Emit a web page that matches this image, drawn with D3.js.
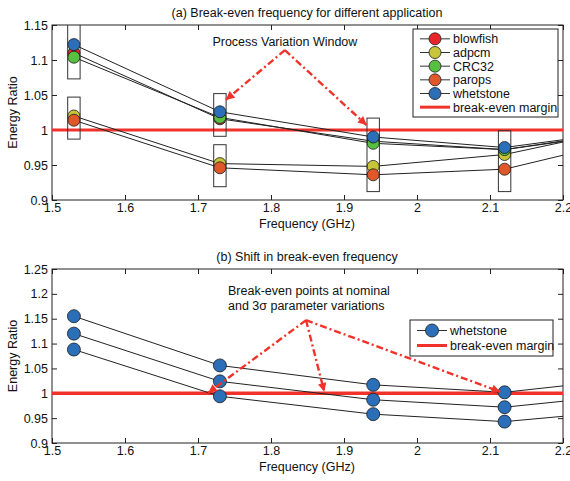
<!DOCTYPE html>
<html>
<head>
<meta charset="utf-8">
<script src="https://cdn.jsdelivr.net/npm/d3@7"></script>
<style>
  body { margin: 0; background: #fff; }
  svg { display: block; font-family: "Liberation Sans", Arial, sans-serif; }
  .tick text { font-size: 12.5px; fill: #111; }
</style>
</head>
<body>
<svg id="chart" width="570" height="481"></svg>
<script>
// ---- data ----
var freqs = [1.53, 1.73, 1.94, 2.12, 2.3];   // last point lies past the axis and is clipped
var apps = ["blowfish", "adpcm", "CRC32", "parops", "whetstone"];
var appColors = ["#e8262a", "#c9c53a", "#58c040", "#e0582a", "#2a6fb8"];
var blowfish = [1.110, 1.016, 0.984, 0.972, 1.000];
var adpcm = [1.020, 0.952, 0.948, 0.965, 1.005];
var crc32 = [1.104, 1.018, 0.981, 0.972, 0.998];
var parops = [1.014, 0.946, 0.936, 0.944, 0.989];
var whetstone = [1.122, 1.026, 0.990, 0.975, 1.000];

// process variation windows (panel a): frequency, low and high energy ratio
var winFreq = [1.53, 1.53, 1.73, 1.73, 1.94, 2.12];
var winLow = [1.073, 0.987, 0.991, 0.919, 0.912, 0.912];
var winHigh = [1.151, 1.047, 1.052, 0.979, 1.017, 0.999];

// panel b: whetstone at +3 sigma, nominal, -3 sigma
var whetHigh = [1.155, 1.056, 1.017, 1.002, 1.031];
var whetNom = [1.120, 1.024, 0.987, 0.972, 0.999];
var whetLow = [1.088, 0.994, 0.958, 0.943, 0.967];

var xTicks = [1.5, 1.6, 1.7, 1.8, 1.9, 2.0, 2.1, 2.2];
var xTickLabels = ["1.5", "1.6", "1.7", "1.8", "1.9", "2", "2.1", "2.2"];
var yTicksA = [0.9, 0.95, 1.0, 1.05, 1.1, 1.15];
var yTickLabelsA = ["0.9", "0.95", "1", "1.05", "1.1", "1.15"];
var yTicksB = [0.9, 0.95, 1.0, 1.05, 1.1, 1.15, 1.2, 1.25];
var yTickLabelsB = ["0.9", "0.95", "1", "1.05", "1.1", "1.15", "1.2", "1.25"];

var breakEven = 1.0;
var red = "#f0332a";

var svg = d3.select("#chart");

svg.append("defs").append("marker")
    .attr("id", "arrow")
    .attr("viewBox", "0 0 10 10")
    .attr("refX", 10).attr("refY", 5)
    .attr("markerWidth", 4.2).attr("markerHeight", 3.6)
    .attr("markerUnits", "strokeWidth")
    .attr("orient", "auto")
    .append("path")
    .attr("d", "M0,0 L10,5 L0,10 Z")
    .style("fill", red);

function makePanel(id, top, bottom, yDomain, yTicks, yLabels, title) {
    var x = d3.scaleLinear().domain([1.5, 2.2]).range([52, 563]);
    var y = d3.scaleLinear().domain(yDomain).range([bottom, top]);
    var g = svg.append("g");

    svg.select("defs").append("clipPath").attr("id", "clip" + id)
        .append("rect")
        .attr("x", 52).attr("y", top)
        .attr("width", 511).attr("height", bottom - top);

    var fmtX = function (d, i) { return xTickLabels[i]; };
    var fmtY = function (d, i) { return yLabels[i]; };

    g.append("g").attr("transform", "translate(0," + bottom + ")")
        .call(d3.axisBottom(x).tickValues(xTicks).tickFormat(fmtX).tickSizeInner(-5).tickSizeOuter(0).tickPadding(3));
    g.append("g").attr("transform", "translate(0," + top + ")")
        .call(d3.axisTop(x).tickValues(xTicks).tickFormat("").tickSizeInner(-5).tickSizeOuter(0));
    g.append("g").attr("transform", "translate(52,0)")
        .call(d3.axisLeft(y).tickValues(yTicks).tickFormat(fmtY).tickSizeInner(-5).tickSizeOuter(0).tickPadding(4));
    g.append("g").attr("transform", "translate(563,0)")
        .call(d3.axisRight(y).tickValues(yTicks).tickFormat("").tickSizeInner(-5).tickSizeOuter(0));
    g.selectAll(".domain").remove();
    g.selectAll(".tick line").style("stroke", "#222");

    g.append("rect")
        .attr("x", 52).attr("y", top)
        .attr("width", 511).attr("height", bottom - top)
        .style("fill", "none").style("stroke", "#222").style("stroke-width", 1);

    g.append("text").attr("x", 307).attr("y", top - 8)
        .attr("text-anchor", "middle").style("font-size", "12.5px").style("fill", "#111")
        .text(title);
    g.append("text").attr("x", 307).attr("y", bottom + 28)
        .attr("text-anchor", "middle").style("font-size", "12.5px").style("fill", "#111")
        .text("Frequency (GHz)");
    g.append("text")
        .attr("transform", "translate(17," + ((top + bottom) / 2) + ") rotate(-90)")
        .attr("text-anchor", "middle").style("font-size", "12.5px").style("fill", "#111")
        .text("Energy Ratio");

    var plot = g.append("g").attr("clip-path", "url(#clip" + id + ")");
    return { x: x, y: y, g: g, plot: plot };
}

function drawSeries(p, values, color, r) {
    var line = d3.line()
        .x(function (d, i) { return p.x(freqs[i]); })
        .y(function (d) { return p.y(d); });
    p.plot.append("path")
        .attr("d", line(values))
        .style("fill", "none").style("stroke", "#222").style("stroke-width", 1);
    p.plot.selectAll(null).data(values).enter().append("circle")
        .attr("cx", function (d, i) { return p.x(freqs[i]); })
        .attr("cy", function (d) { return p.y(d); })
        .attr("r", r)
        .style("fill", color).style("stroke", "#1a1a1a").style("stroke-width", 0.8);
}

function drawBreakEven(p, w) {
    p.plot.append("line")
        .attr("x1", p.x(1.5)).attr("x2", p.x(2.2))
        .attr("y1", p.y(breakEven)).attr("y2", p.y(breakEven))
        .style("stroke", red).style("stroke-width", w);
}

function drawArrow(p, from, to) {
    p.g.append("line")
        .attr("x1", p.x(from[0])).attr("y1", p.y(from[1]))
        .attr("x2", p.x(to[0])).attr("y2", p.y(to[1]))
        .style("stroke", red).style("stroke-width", 2.4)
        .style("stroke-dasharray", "7,3,2,3")
        .attr("marker-end", "url(#arrow)");
}

function drawLegend(x0, y0, w, h, entries) {
    var lg = svg.append("g");
    lg.append("rect").attr("x", x0).attr("y", y0).attr("width", w).attr("height", h)
        .style("fill", "#fff").style("stroke", "#222").style("stroke-width", 1);
    var step = (h - 6) / entries.length;
    entries.forEach(function (e, i) {
        var cy = y0 + 3 + step * (i + 0.5);
        if (e.marker) {
            lg.append("line").attr("x1", x0 + 7).attr("x2", x0 + 37).attr("y1", cy).attr("y2", cy)
                .style("stroke", "#333").style("stroke-width", 1);
            lg.append("circle").attr("cx", x0 + 22).attr("cy", cy).attr("r", e.r)
                .style("fill", e.color).style("stroke", "#1a1a1a").style("stroke-width", 0.8);
        } else {
            lg.append("line").attr("x1", x0 + 7).attr("x2", x0 + 37).attr("y1", cy).attr("y2", cy)
                .style("stroke", red).style("stroke-width", 3);
        }
        lg.append("text").attr("x", x0 + 40).attr("y", cy + 4.5)
            .style("font-size", "12.5px").style("fill", "#111")
            .text(e.label);
    });
}

// ---- panel (a) ----
var pa = makePanel("a", 25, 200, [0.9, 1.15], yTicksA, yTickLabelsA,
    "(a) Break-even frequency for different application");

drawBreakEven(pa, 3);

// variation windows
pa.plot.selectAll(null).data(winFreq).enter().append("rect")
    .attr("x", function (d) { return pa.x(d - 0.0085); })
    .attr("width", function (d) { return pa.x(d + 0.0085) - pa.x(d - 0.0085); })
    .attr("y", function (d, i) { return pa.y(winHigh[i]); })
    .attr("height", function (d, i) { return pa.y(winLow[i]) - pa.y(winHigh[i]); })
    .style("fill", "none").style("stroke", "#333").style("stroke-width", 1);

var seriesA = [blowfish, adpcm, crc32, parops, whetstone];
seriesA.forEach(function (s, i) { drawSeries(pa, s, appColors[i], 6); });

pa.g.append("text").attr("x", pa.x(1.819)).attr("y", 46)
    .attr("text-anchor", "middle").style("font-size", "12.5px").style("fill", "#111")
    .text("Process Variation Window");
drawArrow(pa, [1.819, 1.114], [1.738, 1.043]);
drawArrow(pa, [1.819, 1.114], [1.931, 1.007]);

var legA = apps.map(function (a, i) { return { label: a, color: appColors[i], marker: true, r: 6 }; });
legA.push({ label: "break-even margin", marker: false });
drawLegend(413, 29, 145, 88, legA);

// ---- panel (b) ----
var pb = makePanel("b", 269, 443, [0.9, 1.25], yTicksB, yTickLabelsB,
    "(b) Shift in break-even frequency");

drawBreakEven(pb, 3.5);
[whetHigh, whetNom, whetLow].forEach(function (s) { drawSeries(pb, s, appColors[4], 6.5); });

pb.g.append("text").attr("x", 228).attr("y", 295)
    .style("font-size", "12.5px").style("fill", "#111")
    .text("Break-even points at nominal");
pb.g.append("text").attr("x", 228).attr("y", 310)
    .style("font-size", "12.5px").style("fill", "#111")
    .text("and 3\u03c3 parameter variations");
drawArrow(pb, [1.848, 1.147], [1.714, 1.001]);
drawArrow(pb, [1.848, 1.147], [1.873, 1.003]);
drawArrow(pb, [1.848, 1.147], [2.114, 1.003]);

drawLegend(410, 320, 143, 36, [
    { label: "whetstone", color: appColors[4], marker: true, r: 6.5 },
    { label: "break-even margin", marker: false }
]);
</script>
</body>
</html>
